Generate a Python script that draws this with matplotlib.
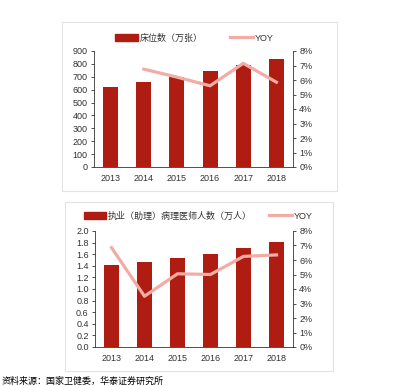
import matplotlib.pyplot as plt
import matplotlib.patches as mpatches
from matplotlib.lines import Line2D
from matplotlib.ticker import FuncFormatter

plt.rcParams['font.family'] = ['Liberation Sans', 'Noto Sans CJK SC']

# datos
anios = ['2013', '2014', '2015', '2016', '2017', '2018']
camas = [618, 660, 701, 741, 794, 840]
camas_yoy = [None, 6.75, 6.2, 5.6, 7.15, 5.85]
medicos = [1.41, 1.46, 1.53, 1.60, 1.71, 1.81]
medicos_yoy = [6.85, 3.5, 5.05, 5.0, 6.25, 6.35]

rojo = '#AE1C12'
rosa = '#F2ACA3'
gris = '#333333'

fig = plt.figure(figsize=(3.99, 3.86), dpi=100)
W, H = 399, 386


def caja(x0, y0, x1, y1):
    fig.patches.append(mpatches.Rectangle((x0 / W, 1 - y1 / H), (x1 - x0) / W, (y1 - y0) / H,
                                          transform=fig.transFigure, fill=False,
                                          edgecolor='#E3E3E3', linewidth=0.8))


def grafica(px, barras, yoy, ymax, ystep, fmt, etiqueta, leg_anchor, colsp):
    x0, y0, x1, y1 = px
    ax = fig.add_axes([x0 / W, 1 - y1 / H, (x1 - x0) / W, (y1 - y0) / H])
    pos = list(range(len(anios)))
    ax.bar(pos, barras, width=0.45, color=rojo, zorder=2)
    ax.set_xlim(-0.5, len(anios) - 0.5)
    ax.set_ylim(0, ymax)
    ticks = [i * ystep for i in range(int(round(ymax / ystep)) + 1)]
    ax.set_yticks(ticks)
    ax.yaxis.set_major_formatter(FuncFormatter(fmt))
    ax.set_xticks(pos)
    ax.set_xticklabels(anios)
    ax.tick_params(axis='x', length=0, labelsize=6.5, colors=gris, pad=5)
    ax.tick_params(axis='y', length=2.5, width=0.6, labelsize=6.5, colors=gris, pad=2)
    for s in ['top', 'right']:
        ax.spines[s].set_visible(False)
    for s in ['left', 'bottom']:
        ax.spines[s].set_color(gris)
        ax.spines[s].set_linewidth(0.6)

    ax2 = ax.twinx()
    xs = [p for p, v in zip(pos, yoy) if v is not None]
    vs = [v for v in yoy if v is not None]
    ax2.plot(xs, vs, color=rosa, linewidth=2.3, zorder=3)
    ax2.set_ylim(0, 8)
    ax2.set_yticks(range(9))
    ax2.set_yticklabels([f'{i}%' for i in range(9)])
    ax2.tick_params(axis='y', length=2.5, width=0.6, labelsize=6.5, colors=gris, pad=2)
    for s in ['top', 'left', 'bottom']:
        ax2.spines[s].set_visible(False)
    ax2.spines['right'].set_color(gris)
    ax2.spines['right'].set_linewidth(0.6)

    handles = [mpatches.Patch(color=rojo), Line2D([0], [0], color=rosa, linewidth=2.3)]
    ax.legend(handles, [etiqueta, 'YOY'], ncol=2, frameon=False, fontsize=6.5,
              loc='center', bbox_to_anchor=leg_anchor, bbox_transform=fig.transFigure,
              handlelength=2.5, handleheight=0.9, handletextpad=0.2, columnspacing=colsp,
              labelcolor=gris)
    return ax


caja(62, 22, 337, 191)
grafica((94, 51, 293, 167), camas, camas_yoy, 900, 100,
        lambda v, p: f'{int(v)}', '床位数（万张）', (0.487, 1 - 38 / H), 3.1)

caja(65, 202, 333, 371)
grafica((95, 231, 293, 347), medicos, medicos_yoy, 2.0, 0.2,
        lambda v, p: f'{v:.1f}', '执业（助理）病理医师人数（万人）', (0.496, 1 - 216 / H), 1.9)

fig.text(0.005, 0.5 / H, '资料来源：国家卫健委，华泰证券研究所', fontsize=6.5,
         va='bottom', ha='left', color='black')

fig.savefig('out.png', dpi=100)
